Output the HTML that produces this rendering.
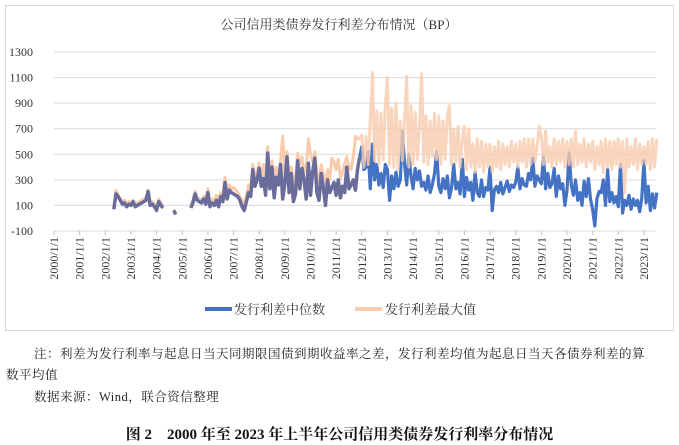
<!DOCTYPE html>
<html><head><meta charset="utf-8"><style>
body{margin:0;background:#fff;width:679px;height:445px;overflow:hidden;font-family:"Liberation Serif","Noto Serif CJK SC",serif}
#box{position:absolute;left:5px;top:5px;width:667px;height:324px;border:1px solid #d9d9d9}
.t{position:absolute;white-space:nowrap}
</style></head><body>
<div id="box"></div>
<svg id="c" width="679" height="445" style="position:absolute;left:0;top:0"></svg>
<div class="t" style="left:34px;top:344px;font-size:12.5px;color:#222;letter-spacing:0.5px">注：利差为发行利率与起息日当天同期限国债到期收益率之差，发行利差均值为起息日当天各债券利差的算</div>
<div class="t" style="left:6px;top:365px;font-size:12.5px;color:#222;letter-spacing:0.5px">数平均值</div>
<div class="t" style="left:34px;top:387px;font-size:12.5px;color:#222;letter-spacing:0.5px">数据来源：Wind，联合资信整理</div>
<div class="t" style="left:0;width:679px;text-align:center;top:423px;font-size:15px;font-weight:bold;color:#111">图 2　2000 年至 2023 年上半年公司信用类债券发行利率分布情况</div>
<script>
const yTicks=[-100,100,300,500,700,900,1100,1300];
const years=["2000/1/1","2001/1/1","2002/1/1","2003/1/1","2004/1/1","2005/1/1","2006/1/1","2007/1/1","2008/1/1","2009/1/1","2010/1/1","2011/1/1","2012/1/1","2013/1/1","2014/1/1","2015/1/1","2016/1/1","2017/1/1","2018/1/1","2019/1/1","2020/1/1","2021/1/1","2022/1/1","2023/1/1"];
const startYear=2002;
const N=null;
const median=[N,N,N,N,70,190,170,140,110,120,90,110,
100,130,90,100,110,120,130,140,210,100,110,90,
60,130,100,80,N,N,N,N,60,30,N,N,
N,N,N,N,80,120,190,140,130,120,150,110,
200,90,120,100,140,90,170,130,280,150,220,200,
190,180,170,140,90,60,130,200,170,380,250,300,
390,250,310,180,510,230,400,160,320,260,420,150,
280,480,200,350,130,190,450,230,390,300,150,430,
180,360,470,200,140,350,240,100,300,200,240,280,
180,300,160,250,200,400,230,260,300,220,380,480,
560,380,400,520,230,580,300,420,260,350,240,420,
380,140,330,230,360,250,300,680,420,260,500,330,
230,390,300,370,250,280,220,330,200,260,350,520,
250,200,310,230,330,160,240,420,230,280,190,460,
170,320,220,280,140,360,200,170,300,170,240,220,
400,60,220,250,200,280,190,240,290,210,260,240,
280,400,230,310,260,250,350,300,470,250,330,300,
270,480,230,350,240,270,390,170,330,230,270,100,
220,510,260,180,300,140,200,100,290,170,310,150,
70,-60,150,210,200,300,100,380,130,200,120,170,
90,420,40,140,100,180,70,150,100,140,50,160,
450,120,250,60,190,80,200];
const maxv=[N,N,N,N,80,220,180,150,130,140,110,130,
120,140,110,120,130,140,150,160,220,120,130,110,
80,150,120,100,N,N,N,N,70,40,N,N,
N,N,N,N,100,140,210,160,150,140,170,150,
230,120,150,130,180,140,200,180,320,200,260,230,
240,220,200,170,140,110,180,260,240,420,330,360,
430,300,420,280,560,300,450,250,400,330,460,640,
350,520,320,400,260,300,510,420,480,360,400,620,
500,440,520,350,280,420,350,260,380,300,470,440,
380,460,310,360,430,480,400,380,480,640,620,620,
650,400,640,420,760,1140,450,840,420,820,460,880,
1100,420,860,400,900,380,760,450,780,1110,400,880,
420,830,460,720,1130,440,800,420,760,480,820,460,
800,420,760,460,800,880,420,700,440,720,400,620,
720,380,700,400,580,360,620,400,600,360,580,400,
580,360,560,400,600,380,580,420,560,400,600,440,
580,400,600,440,620,400,620,420,620,440,560,720,
640,420,680,440,560,400,620,420,600,440,620,400,
600,420,620,400,680,420,580,440,620,400,580,440,
600,380,560,420,600,360,620,400,600,380,600,420,
620,400,600,200,620,400,560,420,620,380,580,420,
560,420,600,380,620,400,620];
const svg=document.getElementById('c');const NS='http://www.w3.org/2000/svg';
function X(yr){return 54+(yr-2000)*25.65;}
function Y(v){return 231-(v+100)/1400*179;}
function el(t,a,p){const e=document.createElementNS(NS,t);for(const k in a)e.setAttribute(k,a[k]);(p||svg).appendChild(e);return e;}
const title=el('text',{x:339,y:29,'text-anchor':'middle','font-size':13,fill:'#333'});title.textContent='公司信用类债券发行利差分布情况（BP）';

yTicks.forEach(v=>{const g=el('line',{x1:54,x2:656,y1:Y(v),y2:Y(v),stroke:'#d9d9d9'});

const t=el('text',{x:33,y:Y(v)+4,'text-anchor':'end','font-size':12,fill:'#333'});t.textContent=v;
});
years.forEach((s,i)=>{const x=X(2000+i);const tk=el('line',{x1:x,x2:x,y1:231,y2:235,stroke:'#bfbfbf'});

const t=el('text',{x:0,y:0,'text-anchor':'end','font-size':12,fill:'#333',transform:`translate(${x+4},237) rotate(-90)`});t.textContent=s;
});
function paths(arr,from,to){let d='',pen=false;arr.forEach((v,i)=>{const yr=startYear+i/12;if(yr<from||yr>=to||v===null){pen=false;return;}d+=(pen?'L':'M')+X(yr).toFixed(1)+','+Y(v).toFixed(1);pen=true;});return d;}
const pm=el('path',{d:paths(median,2011.9,2100),fill:'none',stroke:'#4472c4','stroke-width':3.2,'stroke-linejoin':'round'});

const pmax=el('path',{d:paths(maxv,2011.9,2100),fill:'none',stroke:'#f8cbad','stroke-width':3,opacity:0.8,'stroke-linejoin':'round'});

const pmax0=el('path',{d:paths(maxv,2000,2012),fill:'none',stroke:'#f8cbad','stroke-width':3,'stroke-linejoin':'round'});

const pm0=el('path',{d:paths(median,2000,2012),fill:'none',stroke:'#6a6d9b','stroke-width':3.5,'stroke-linejoin':'round'});

const l1=el('line',{x1:205,x2:232,y1:309,y2:309,stroke:'#4472c4','stroke-width':4});

const t1=el('text',{x:234,y:314,'font-size':13,fill:'#333'});t1.textContent='发行利差中位数';

const l2=el('line',{x1:355,x2:382,y1:309,y2:309,stroke:'#f8cbad','stroke-width':4});

const t2=el('text',{x:385,y:314,'font-size':13,fill:'#333'});t2.textContent='发行利差最大值';

</script>
</body></html>
